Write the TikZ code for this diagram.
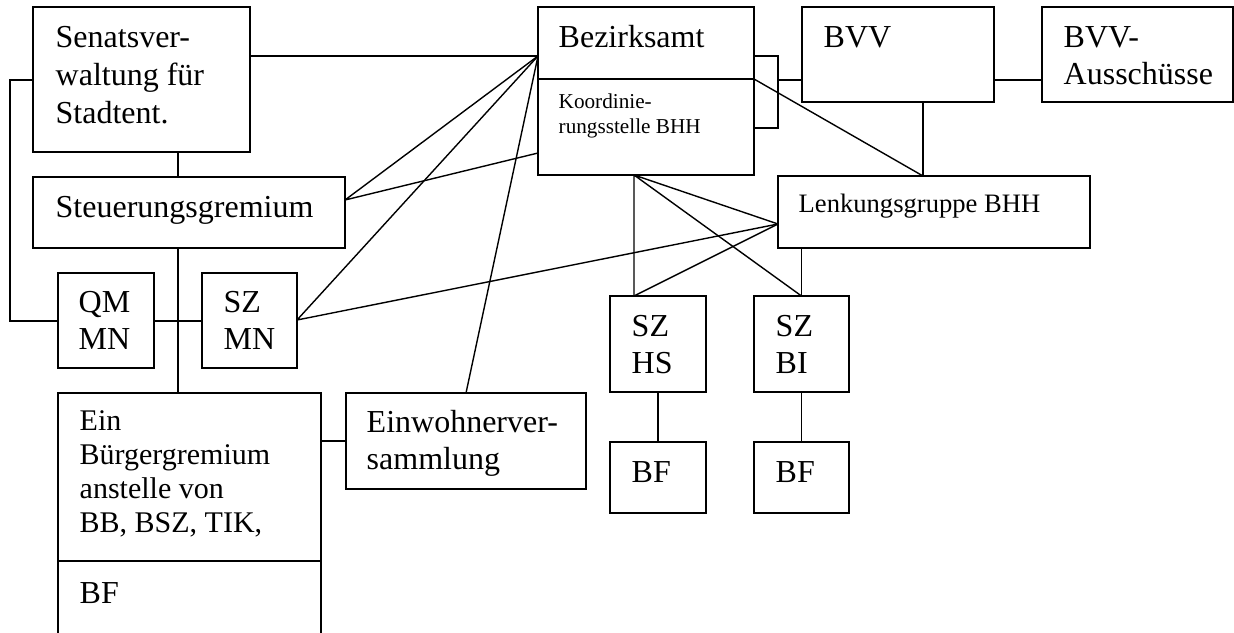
\documentclass[tikz,border=0pt]{standalone}
\usepackage{fontspec}
\setmainfont{Liberation Serif}
\newcommand{\boxlines}[1]{\vtop{\halign{##\hfil\cr#1\crcr}}}

\begin{document}
\begin{tikzpicture}[
	x=0.5pt, y=-0.5pt,
	line width=0.7pt,
	box/.style 2 args={draw, inner sep=0pt, outer sep=0pt, anchor=north west,
		minimum width=#1*0.5pt, minimum height=#2*0.5pt},
	txt/.style={inner sep=0pt, anchor=base west, font=\fontsize{16}{18.5}\selectfont},
	small/.style={inner sep=0pt, anchor=base west, font=\fontsize{10.6}{12.5}\selectfont}]
\useasboundingbox (0,0) rectangle (1234,632);

\node[box={217}{145}] (sen) at (33,7) {};
\node[box={312}{71}] (steu) at (33,177) {};
\node[box={96}{95}] (qm) at (58,273) {};
\node[box={95}{95}] (szmn) at (202,273) {};
\node[box={263}{168}] (buerger) at (58,393) {};
\node[box={263}{90}] (bf) at (58,561) {};
\node[box={240}{96}] (einw) at (346,393) {};
\node[box={216}{168}] (bez) at (538,7) {};
\node[box={192}{95}] (bvv) at (802,7) {};
\node[box={191}{95}] (aus) at (1042,7) {};
\node[box={312}{72}] (lenk) at (778,176) {};
\node[box={96}{96}] (szhs) at (610,296) {};
\node[box={95}{96}] (szbi) at (754,296) {};
\node[box={96}{71}] (bfhs) at (610,442) {};
\node[box={95}{71}] (bfbi) at (754,442) {};

\node[txt, font=\fontsize{16}{19}\selectfont] (sen-t) at (55,47) {\boxlines{Senatsver-\cr waltung für\cr Stadtent.}};
\node[txt] (steu-t) at (55,217) {Steuerungsgremium};
\node[txt] (qm-t) at (78,312) {\boxlines{QM\cr MN}};
\node[txt] (szmn-t) at (223,312) {\boxlines{SZ\cr MN}};
\node[txt, font=\fontsize{15}{17}\selectfont] (buerger-t) at (79,430) {\boxlines{Ein\cr Bürgergremium\cr anstelle von\cr BB, BSZ, TIK,}};
\node[txt] (bf-t) at (79,603) {BF};
\node[txt] (einw-t) at (366,432) {\boxlines{Einwohnerver-\cr sammlung}};
\node[txt] (bez-t) at (558,47) {Bezirksamt};
\node[small] (koord-t) at (558,108) {\boxlines{Koordinie-\cr rungsstelle BHH}};
\node[txt] (bvv-t) at (823,47) {BVV};
\node[txt] (aus-t) at (1063,47) {\boxlines{BVV-\cr Ausschüsse}};
\node[txt, font=\fontsize{13.3}{15}\selectfont] (lenk-t) at (798,212) {Lenkungsgruppe BHH};
\node[txt] (szhs-t) at (631,336) {\boxlines{SZ\cr HS}};
\node[txt] (szbi-t) at (775,336) {\boxlines{SZ\cr BI}};
\node[txt] (bfhs-t) at (631,482) {BF};
\node[txt] (bfbi-t) at (775,482) {BF};

\coordinate (fan) at (bez.west |- 0,56);
\coordinate (koord) at (bez.west |- 0,153);
\coordinate (kfan) at (bez.south -| 634,0);
\coordinate (lfan) at (lenk.west |- 0,224);
\coordinate (brk) at (778,80);

% Bezirksamt / Koordinierungsstelle
\draw (bez.west |- 0,79) -- (bez.east |- 0,79);
\draw (sen.east |- fan) -- (fan);
\draw (steu.east |- 0,200) -- (fan) (steu.east |- 0,200) -- (koord);
\draw (szmn.east |- 0,320) -- (fan) (szmn.east |- 0,320) -- (lfan);
\draw (einw.north) -- (fan);
\draw (bez.east |- 0,56) -| (brk) |- (bez.east |- 0,128);
\draw (brk) -- (bvv.west |- brk);
\draw (bvv.east |- brk) -- (aus.west |- brk);
\draw (bvv.south -| 923,0) -- (lenk.north -| 923,0);
\draw (bez.east |- 0,79) -- (lenk.north -| 923,0);
\draw (kfan) -- (szhs.north -| kfan) (kfan) -- (lfan) (kfan) -- (szbi.north);
\draw (lfan) -- (szhs.north -| kfan);
\draw (lenk.south -| szbi.north) -- (szbi.north);
\draw (szhs.south) -- (bfhs.north) (szbi.south) -- (bfbi.north);

% linke Seite
\draw (sen.west |- 0,80) -- ++(-23,0) |- (qm.west |- 0,321);
\draw (qm.east |- 0,321) -- (szmn.west |- 0,321);
\draw (sen.south -| 178,0) -- (steu.north -| 178,0);
\draw (steu.south -| 178,0) -- (buerger.north -| 178,0);
\draw (buerger.east |- einw.west) -- (einw.west);
\end{tikzpicture}
\end{document}
